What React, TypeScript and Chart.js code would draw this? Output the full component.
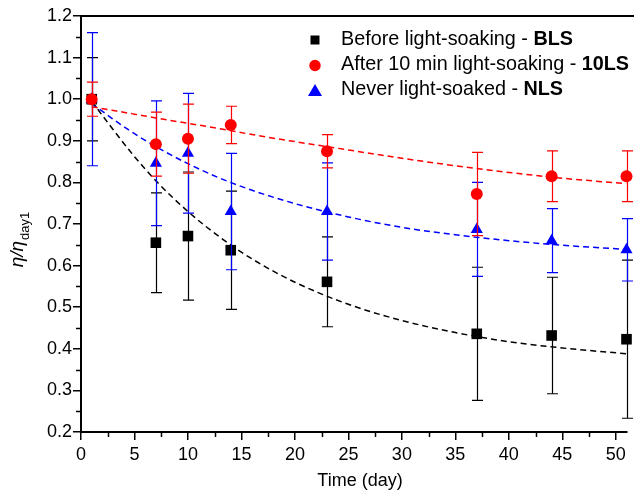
import React, { useEffect, useRef } from 'react';
import { Chart, registerables } from 'chart.js';

Chart.register(...registerables);

// ---- data ----
const DAYS = [1, 7, 10, 14, 23, 37, 44, 51];

const BLS = [1.0, 0.655, 0.671, 0.637, 0.561, 0.436, 0.432, 0.423];
const BLS_ERR = [0.1, 0.12, 0.154, 0.142, 0.108, 0.16, 0.14, 0.19];

const LS10 = [1.0, 0.892, 0.905, 0.938, 0.875, 0.772, 0.815, 0.815];
const LS10_ERR = [0.041, 0.077, 0.083, 0.045, 0.04, 0.1, 0.061, 0.061];

const NLS = [1.0, 0.846, 0.87, 0.73, 0.73, 0.687, 0.66, 0.638];
const NLS_ERR = [0.16, 0.15, 0.144, 0.14, 0.117, 0.113, 0.077, 0.075];

// fitted (dashed) curves
const FIT_X = [1, 3, 5, 7, 10, 13, 16, 20, 25, 30, 35, 40, 45, 51];
const BLS_FIT = [0.995, 0.927, 0.862, 0.804, 0.73, 0.668, 0.616, 0.56, 0.507, 0.468, 0.439, 0.417, 0.402, 0.388];
const LS10_FIT = [0.982, 0.973, 0.964, 0.955, 0.942, 0.929, 0.915, 0.898, 0.878, 0.858, 0.84, 0.824, 0.81, 0.797];
const NLS_FIT = [0.99, 0.952, 0.917, 0.886, 0.845, 0.81, 0.781, 0.749, 0.717, 0.692, 0.674, 0.66, 0.649, 0.639];

const LEGEND_TEXT = ['Before light-soaking - ', 'After 10 min light-soaking - ', 'Never light-soaked - '];
const LEGEND_BOLD = ['BLS', '10LS', 'NLS'];
const LEGEND_COLORS = ['#000000', '#ff0000', '#0000ff'];
const LEGEND_MARKERS = ['rect', 'circle', 'triangle'];

const X_TITLE = 'Time (day)';
const Y_TITLE_MAIN = 'η/η';
const Y_TITLE_SUB = 'day1';

const FONT = "'Liberation Sans', Arial, sans-serif";

const pts = (xs: number[], ys: number[]) => xs.map((x, i) => ({ x, y: ys[i] }));

const errorBarPlugin = {
  id: 'errorBars',
  beforeDatasetDraw(chart: any, args: any) {
    const ds = chart.data.datasets[args.index];
    if (!ds.errors) return;
    const { ctx } = chart;
    const xs = chart.scales.x;
    const ys = chart.scales.y;
    ctx.save();
    ctx.strokeStyle = ds.errorColor;
    ctx.lineWidth = 1.2;
    ds.data.forEach((p: any, i: number) => {
      const e = ds.errors[i];
      const px = Math.round(xs.getPixelForValue(p.x)) + 0.5;
      const yt = ys.getPixelForValue(p.y + e);
      const yb = ys.getPixelForValue(p.y - e);
      ctx.beginPath();
      ctx.moveTo(px, yt);
      ctx.lineTo(px, yb);
      ctx.moveTo(px - 5.5, yt);
      ctx.lineTo(px + 5.5, yt);
      ctx.moveTo(px - 5.5, yb);
      ctx.lineTo(px + 5.5, yb);
      ctx.stroke();
    });
    ctx.restore();
  },
};

const decorPlugin = {
  id: 'decor',
  afterDraw(chart: any) {
    const { ctx, chartArea } = chart;
    const xs = chart.scales.x;
    const ys = chart.scales.y;
    ctx.save();
    // top frame line
    ctx.strokeStyle = '#000';
    ctx.lineWidth = 2;
    ctx.beginPath();
    ctx.moveTo(chartArea.left - 1, chartArea.top);
    ctx.lineTo(chart.width, chartArea.top);
    ctx.stroke();

    // minor ticks
    ctx.lineWidth = 1.5;
    const yt = ys.ticks;
    for (let i = 0; i < yt.length - 1; i++) {
      const py = Math.round(ys.getPixelForValue((yt[i].value + yt[i + 1].value) / 2)) + 0.5;
      ctx.beginPath();
      ctx.moveTo(chartArea.left - 5, py);
      ctx.lineTo(chartArea.left, py);
      ctx.stroke();
    }
    const xt = xs.ticks;
    for (let i = 0; i < xt.length - 1; i++) {
      const px = Math.round(xs.getPixelForValue((xt[i].value + xt[i + 1].value) / 2)) + 0.5;
      ctx.beginPath();
      ctx.moveTo(px, chartArea.bottom);
      ctx.lineTo(px, chartArea.bottom + 5);
      ctx.stroke();
    }

    // x title
    ctx.fillStyle = '#000';
    ctx.font = `18px ${FONT}`;
    ctx.textAlign = 'center';
    ctx.textBaseline = 'alphabetic';
    ctx.fillText(X_TITLE, 360, 486);

    // y title with subscript
    ctx.save();
    ctx.translate(23, 240);
    ctx.rotate(-Math.PI / 2);
    ctx.font = `italic 19px ${FONT}`;
    const wMain = ctx.measureText(Y_TITLE_MAIN).width;
    ctx.font = `13px ${FONT}`;
    const wSub = ctx.measureText(Y_TITLE_SUB).width;
    const start = -(wMain + wSub) / 2;
    ctx.textAlign = 'left';
    ctx.font = `italic 19px ${FONT}`;
    ctx.fillText(Y_TITLE_MAIN, start, 0);
    ctx.font = `13px ${FONT}`;
    ctx.fillText(Y_TITLE_SUB, start + wMain + 1, 6);
    ctx.restore();

    // legend
    const rowsY = [40, 65, 90];
    for (let i = 0; i < LEGEND_TEXT.length; i++) {
      const cy = rowsY[i];
      const cx = 315;
      ctx.fillStyle = LEGEND_COLORS[i];
      ctx.beginPath();
      if (LEGEND_MARKERS[i] === 'rect') {
        ctx.rect(cx - 4.5, cy - 4.5, 9, 9);
      } else if (LEGEND_MARKERS[i] === 'circle') {
        ctx.arc(cx, cy + 0.5, 5.7, 0, Math.PI * 2);
      } else {
        ctx.moveTo(cx, cy - 6);
        ctx.lineTo(cx + 7, cy + 6);
        ctx.lineTo(cx - 7, cy + 6);
        ctx.closePath();
      }
      ctx.fill();
      ctx.fillStyle = '#000';
      ctx.textAlign = 'left';
      ctx.textBaseline = 'middle';
      ctx.font = `19.8px ${FONT}`;
      ctx.fillText(LEGEND_TEXT[i], 341, cy);
      const w = ctx.measureText(LEGEND_TEXT[i]).width;
      ctx.font = `bold 19.8px ${FONT}`;
      ctx.fillText(LEGEND_BOLD[i], 341 + w, cy);
    }
    ctx.restore();
  },
};

export default function App() {
  const ref = useRef<HTMLCanvasElement>(null);

  useEffect(() => {
    const fitLine = (data: number[], color: string) => ({
      data: pts(FIT_X, data),
      showLine: true,
      borderColor: color,
      borderWidth: 1.5,
      borderDash: [6, 4],
      pointRadius: 0,
      cubicInterpolationMode: 'monotone' as const,
      order: 10,
    });
    const markers = (data: number[], errs: number[], color: string, style: string, radius: number, order: number) => ({
      data: pts(DAYS, data),
      showLine: false,
      pointStyle: style,
      pointRadius: radius,
      pointBackgroundColor: color,
      pointBorderColor: color,
      pointBorderWidth: 0,
      backgroundColor: color,
      borderColor: color,
      errors: errs,
      errorColor: color,
      clip: false,
      order,
    });

    const chart = new Chart(ref.current as HTMLCanvasElement, {
      type: 'scatter',
      data: {
        datasets: [
          fitLine(BLS_FIT, '#000000'),
          fitLine(LS10_FIT, '#ff0000'),
          fitLine(NLS_FIT, '#0000ff'),
          markers(BLS, BLS_ERR, '#000000', 'rect', 7.5, 3),
          markers(NLS, NLS_ERR, '#0000ff', 'triangle', 7, 2),
          markers(LS10, LS10_ERR, '#ff0000', 'circle', 6, 1),
        ] as any,
      },
      options: {
        responsive: false,
        devicePixelRatio: 1,
        animation: false,
        layout: { padding: { left: 0, right: 3, top: 16, bottom: 0 } },
        plugins: { legend: { display: false }, tooltip: { enabled: false } },
        scales: {
          x: {
            type: 'linear',
            min: 0,
            max: 51,
            afterFit: (s: any) => { s.height = 61; },
            border: { display: true, color: '#000', width: 2 },
            grid: { drawOnChartArea: false, drawTicks: true, tickLength: 8, color: '#000', lineWidth: 1.5 },
            ticks: {
              stepSize: 5,
              includeBounds: false,
              padding: 4,
              color: '#000',
              maxRotation: 0,
              font: { family: FONT, size: 18 },
            },
          },
          y: {
            type: 'linear',
            min: 0.2,
            max: 1.2,
            afterFit: (s: any) => { s.width = 81; },
            border: { display: true, color: '#000', width: 2 },
            grid: { drawOnChartArea: false, drawTicks: true, tickLength: 8, color: '#000', lineWidth: 1.5 },
            ticks: {
              stepSize: 0.1,
              padding: 1,
              color: '#000',
              font: { family: FONT, size: 18 },
              callback: (v: any) => Number(v).toFixed(1),
            },
          },
        },
      },
      plugins: [errorBarPlugin, decorPlugin],
    });
    return () => chart.destroy();
  }, []);

  return (
    <div style={{ position: 'fixed', left: 0, top: 0, width: 634, height: 493, background: '#fff' }}>
      <canvas ref={ref} width={634} height={493} style={{ display: 'block' }} />
    </div>
  );
}
